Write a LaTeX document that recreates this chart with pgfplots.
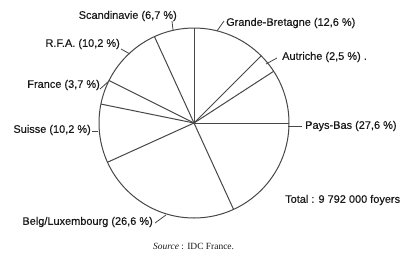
\documentclass[border=0pt]{standalone}
\usepackage{pgfplots}
\pgfplotsset{compat=1.18}
\usepgfplotslibrary{polar}
\usepackage{fontspec}
\setmainfont{Liberation Sans}[FakeBold=0.4]
\newfontfamily\srcfont{Liberation Serif}
\definecolor{ink}{gray}{0.28}
\definecolor{txt}{gray}{0.10}
\begin{document}
\begin{tikzpicture}[x=1bp,y=-1bp]
\path[use as bounding box] (0,0) rectangle (401,255);
% Shares (%): Grande-Bretagne 12.6, Autriche 2.5, Pays-Bas 27.6, Belg/Luxembourg 26.6,
% Suisse 10.2, France 3.7, R.F.A. 10.2, Scandinavie 6.7 -- boundaries (deg) as drawn
\begin{polaraxis}[
  at={(194bp,-123bp)}, anchor=center,
  width=190bp, height=190bp, scale only axis,
  ymin=0, ymax=1, xtick=\empty, ytick=\empty,
  axis line style={ink, line width=1bp},
  clip=false,
]
\addplot[ink, line width=1bp] coordinates {(90,0) (90,1)};
\addplot[ink, line width=1bp] coordinates {(45,0) (45,1)};
\addplot[ink, line width=1bp] coordinates {(33,0) (33,1)};
\addplot[ink, line width=1bp] coordinates {(-65.4,0) (-65.4,1)};
\addplot[ink, line width=1bp] coordinates {(204.4,0) (204.4,1)};
\addplot[ink, line width=1bp] coordinates {(168.5,0) (168.5,1)};
\addplot[ink, line width=1bp] coordinates {(153.4,0) (153.4,1)};
\addplot[ink, line width=1bp] coordinates {(114.6,0) (114.6,1)};
\end{polaraxis}
% leaders
\begin{scope}[ink, line width=0.8bp]
\draw (172,21) -- (173,30);
\draw (121,49) -- (130,54);
\draw (100,89) -- (109,81);
\draw (92,131) -- (98,131);
\draw (155,223) -- (166,215);
\draw (217,31) -- (224,21);
\draw (266,64) -- (277,58);
\draw (288,126) -- (302,126);
\end{scope}
\begin{scope}[txt, font=\fontsize{11}{12}\selectfont, inner sep=0pt]
\node[anchor=east] at (177,16) {Scandinavie (6,7 \%)};
\node[anchor=east] at (120,44) {R.F.A. (10,2 \%)};
\node[anchor=east] at (100,85) {France (3,7 \%)};
\node[anchor=east] at (91,130) {Suisse (10,2 \%)};
\node[anchor=east] at (153,222) {Belg/Luxembourg (26,6 \%)};
\node[anchor=west] at (226,23) {Grande-Bretagne (12,6 \%)};
\node[anchor=west] at (282,57) {Autriche (2,5 \%) .};
\node[anchor=west] at (305,126) {Pays-Bas (27,6 \%)};
\node[anchor=west] at (285,200) {Total : 9 792 000 foyers};
\end{scope}
\node[txt, anchor=west, inner sep=0pt, font=\srcfont\fontsize{9.5}{11}\selectfont] at (153,246) {\textit{Source} : IDC France.};
\end{tikzpicture}
\end{document}
